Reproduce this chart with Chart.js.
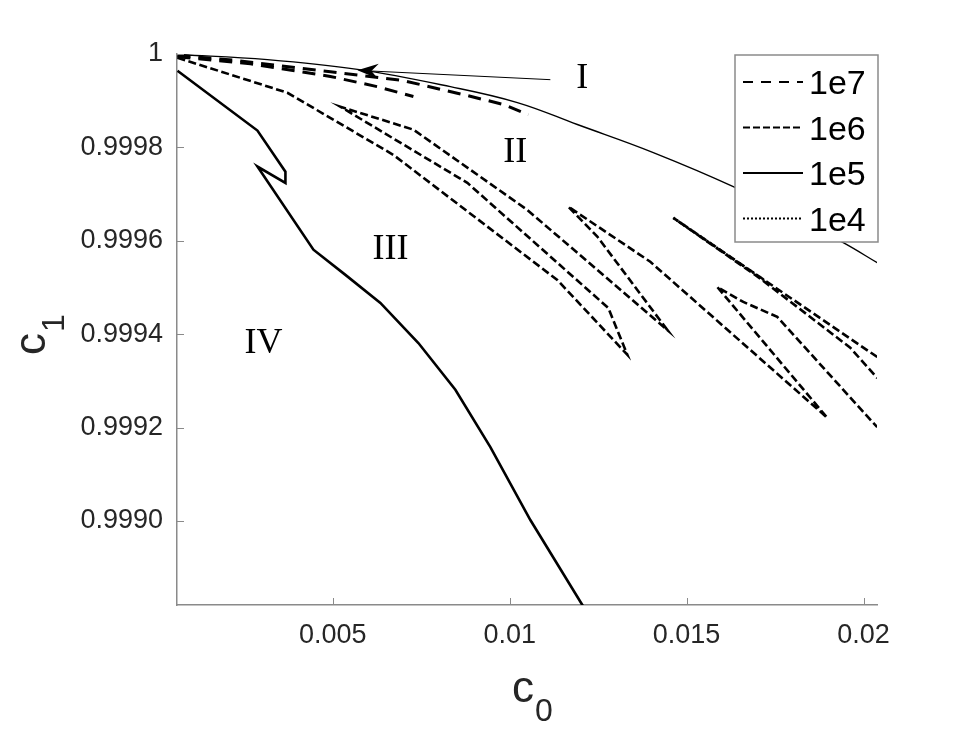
<!DOCTYPE html>
<html>
<head>
<meta charset="utf-8">
<title>c1 / c0</title>
<script src="https://cdn.jsdelivr.net/npm/chart.js@4.4.1/dist/chart.umd.min.js"></script>
<style>
  html, body { margin: 0; padding: 0; background: #fff; }
  canvas { display: block; }
</style>
</head>
<body>
<canvas id="myChart" width="969" height="729"></canvas>
<script>
// ticks
var xTicks = [0.005, 0.01, 0.015, 0.02];
var xTickLabels = ['0.005', '0.01', '0.015', '0.02'];
var yTicks = [0.9990, 0.9992, 0.9994, 0.9996, 0.9998, 1];
var yTickLabels = ['0.9990', '0.9992', '0.9994', '0.9996', '0.9998', '1'];

// upper boundary between region I and II (thin solid)
var boundX = [0.000613, 0.003155, 0.005698, 0.008325, 0.010218, 0.011912, 0.014059, 0.016319, 0.018211, 0.019426, 0.020387];
var boundY = [0.999999, 0.999988, 0.999967, 0.999930, 0.999896, 0.999849, 0.999789, 0.999716, 0.999643, 0.999596, 0.999553];

// 1e7 (dashed), two branches
var re7aX = [0.000613, 0.002308, 0.004935, 0.006997, 0.008692, 0.009822, 0.010528];
var re7aY = [0.999997, 0.999986, 0.999962, 0.999943, 0.999913, 0.999892, 0.999870];
var re7bX = [0.000613, 0.002675, 0.004935, 0.006263, 0.007280];
var re7bY = [0.999994, 0.999979, 0.999952, 0.999930, 0.999909];

// 1e6 (dash-dot), folded branch and the short pair on the right
var re6aX = [0.000613, 0.003720, 0.006714, 0.011347, 0.013325, 0.012788, 0.008805, 0.005218,
             0.007280, 0.010500, 0.014455, 0.012477, 0.011658, 0.013974, 0.018974, 0.015867, 0.016602,
             0.017562, 0.020274, 0.020387];
var re6aY = [0.999992, 0.999917, 0.999784, 0.999516, 0.999356, 0.999456, 0.999724, 0.999887,
             0.999838, 0.999666, 0.999409, 0.999609, 0.999673, 0.999555, 0.999221, 0.999501, 0.999469,
             0.999437, 0.999210, 0.999201];
var re6bX = [0.020387, 0.014624, 0.017082, 0.019624, 0.020387];
var re6bY = [0.999351, 0.999649, 0.999519, 0.999371, 0.999306];

// 1e5 (solid)
var re5X = [0.000613, 0.002873, 0.003664, 0.003664, 0.002873, 0.004455, 0.005359, 0.006347, 0.007421,
            0.008466, 0.009455, 0.010585, 0.012054, 0.012280];
var re5Y = [0.999964, 0.999836, 0.999748, 0.999724, 0.999759, 0.999581, 0.999527, 0.999467, 0.999381,
            0.999281, 0.999158, 0.999002, 0.998820, 0.998792];

// 1e4 (dotted)
var re4X = [0.014624, 0.017223];
var re4Y = [0.999649, 0.999514];

// region labels
var regionNames = ['I', 'II', 'III', 'IV'];
var regionX = [0.012054, 0.010161, 0.006630, 0.003042];
var regionY = [0.999952, 0.999795, 0.999586, 0.999385];

// arrow from label I to the boundary (start, tip)
var arrowX = [0.011150, 0.005698];
var arrowY = [0.999945, 0.999965];

var axisGray = '#8a8a8a';
var textDark = '#262626';

function pts(xs, ys) {
    return xs.map(function (x, i) { return { x: x, y: ys[i] }; });
}

function line(label, xs, ys, dash, width, inLegend, tension) {
    return {
        label: label,
        data: pts(xs, ys),
        showLine: true,
        borderColor: '#000',
        backgroundColor: '#000',
        borderWidth: width,
        borderDash: dash,
        pointRadius: 0,
        tension: tension || 0,
        clip: 0,
        inLegend: inLegend
    };
}

// legend drawn inside the axes, top right
var boxLegend = {
    id: 'boxLegend',
    afterDraw: function (chart) {
        var ctx = chart.ctx, a = chart.chartArea;
        var left = a.right - 142, top = a.top + 1, w = 143, h = 187;
        ctx.save();
        ctx.fillStyle = '#fff';
        ctx.fillRect(left, top, w, h);
        ctx.strokeStyle = axisGray;
        ctx.lineWidth = 1.5;
        ctx.strokeRect(left, top, w, h);
        var items = chart.data.datasets.filter(function (d) { return d.inLegend; });
        ctx.font = '34px "Liberation Sans", Arial, sans-serif';
        ctx.textBaseline = 'alphabetic';
        ctx.textAlign = 'left';
        items.forEach(function (d, i) {
            var cy = top + 27 + i * 45.5;
            ctx.beginPath();
            ctx.setLineDash(d.legendDash || d.borderDash);
            ctx.strokeStyle = '#000';
            ctx.lineWidth = 2;
            ctx.moveTo(left + 8, cy);
            ctx.lineTo(left + 68, cy);
            ctx.stroke();
            ctx.setLineDash([]);
            ctx.fillStyle = '#000';
            ctx.fillText(d.label, left + 74, cy + 12);
        });
        ctx.restore();
    }
};

// inward tick marks, region labels, arrow, axis titles with subscripts
var decorations = {
    id: 'decorations',
    afterDatasetsDraw: function (chart) {
        var ctx = chart.ctx, a = chart.chartArea;
        var xs = chart.scales.x, ys = chart.scales.y;
        ctx.save();

        ctx.strokeStyle = axisGray;
        ctx.lineWidth = 1;
        ctx.beginPath();
        xTicks.forEach(function (v) {
            var px = Math.round(xs.getPixelForValue(v)) + 0.5;
            ctx.moveTo(px, a.bottom);
            ctx.lineTo(px, a.bottom - 7);
        });
        yTicks.forEach(function (v) {
            var py = Math.round(ys.getPixelForValue(v)) + 0.5;
            ctx.moveTo(a.left, py);
            ctx.lineTo(a.left + 7, py);
        });
        ctx.stroke();

        // region names
        ctx.fillStyle = '#000';
        ctx.font = '36px "Liberation Serif", "Times New Roman", serif';
        ctx.textAlign = 'center';
        ctx.textBaseline = 'alphabetic';
        regionNames.forEach(function (n, i) {
            ctx.fillText(n, xs.getPixelForValue(regionX[i]), ys.getPixelForValue(regionY[i]) + 12);
        });

        // arrow
        var x0 = xs.getPixelForValue(arrowX[0]), y0 = ys.getPixelForValue(arrowY[0]);
        var x1 = xs.getPixelForValue(arrowX[1]), y1 = ys.getPixelForValue(arrowY[1]);
        var ang = Math.atan2(y1 - y0, x1 - x0);
        ctx.strokeStyle = '#000';
        ctx.lineWidth = 1;
        ctx.beginPath();
        ctx.moveTo(x0, y0);
        ctx.lineTo(x1 - 12 * Math.cos(ang), y1 - 12 * Math.sin(ang));
        ctx.stroke();
        ctx.translate(x1, y1);
        ctx.rotate(ang);
        ctx.beginPath();
        ctx.moveTo(0, 0);
        ctx.lineTo(-21, -7.5);
        ctx.lineTo(-14, 0);
        ctx.lineTo(-21, 7.5);
        ctx.closePath();
        ctx.fillStyle = '#000';
        ctx.fill();
        ctx.restore();
    },
    afterDraw: function (chart) {
        var ctx = chart.ctx, a = chart.chartArea;
        ctx.save();
        ctx.fillStyle = textDark;
        ctx.textAlign = 'left';
        ctx.textBaseline = 'alphabetic';
        function subLabel(main, sub) {
            ctx.font = '44px "Liberation Sans", Arial, sans-serif';
            ctx.fillText(main, 0, 0);
            var w = ctx.measureText(main).width;
            ctx.font = '32px "Liberation Sans", Arial, sans-serif';
            ctx.fillText(sub, w + 1, 19);
        }
        ctx.save();
        ctx.translate(a.left + 335, a.bottom + 97);
        subLabel('c', '0');
        ctx.restore();
        ctx.save();
        ctx.translate(a.left - 132, a.top + 301);
        ctx.rotate(-Math.PI / 2);
        subLabel('c', '1');
        ctx.restore();
        ctx.restore();
    }
};

var ds7a = line('1e7', re7aX, re7aY, [13, 8], 3, true);
ds7a.legendDash = [10, 8];
var ds6a = line('1e6', re6aX, re6aY, [8, 3.5], 2.6, true);
ds6a.legendDash = [7, 3];

var ctx = document.getElementById('myChart').getContext('2d');
var chart = new Chart(ctx, {
    type: 'scatter',
    data: {
        datasets: [
            ds7a,
            line('1e7', re7bX, re7bY, [13, 8], 3, false),
            ds6a,
            line('1e6', re6bX, re6bY, [8, 3.5], 2.6, false),
            line('1e5', re5X, re5Y, [], 2.6, true),
            line('1e4', re4X, re4Y, [2, 2], 2.6, true),
            line('boundary', boundX, boundY, [], 1.4, false, 0.4)
        ]
    },
    options: {
        responsive: false,
        animation: false,
        layout: { padding: { left: 0, top: 54, right: 92, bottom: 0 } },
        plugins: {
            legend: { display: false },
            tooltip: { enabled: false }
        },
        scales: {
            x: {
                type: 'linear',
                min: 0.0006,
                max: 0.02038,
                grid: { display: false, drawTicks: false },
                border: { display: true, color: axisGray, width: 1.5 },
                afterBuildTicks: function (scale) {
                    scale.ticks = xTicks.map(function (v) { return { value: v }; });
                },
                afterFit: function (scale) { scale.height = 124; },
                ticks: {
                    autoSkip: false,
                    maxRotation: 0,
                    padding: 14,
                    color: textDark,
                    font: { family: '"Liberation Sans", Arial, sans-serif', size: 27 },
                    callback: function (value, index) { return xTickLabels[index]; }
                }
            },
            y: {
                type: 'linear',
                min: 0.99882,
                max: 1,
                grid: { display: false, drawTicks: false },
                border: { display: true, color: axisGray, width: 1.5 },
                afterBuildTicks: function (scale) {
                    scale.ticks = yTicks.map(function (v) { return { value: v }; });
                },
                afterFit: function (scale) { scale.width = 177; },
                ticks: {
                    autoSkip: false,
                    padding: 14,
                    color: textDark,
                    font: { family: '"Liberation Sans", Arial, sans-serif', size: 27 },
                    callback: function (value, index) { return yTickLabels[index]; }
                }
            }
        }
    },
    plugins: [decorations, boxLegend]
});
</script>
</body>
</html>
